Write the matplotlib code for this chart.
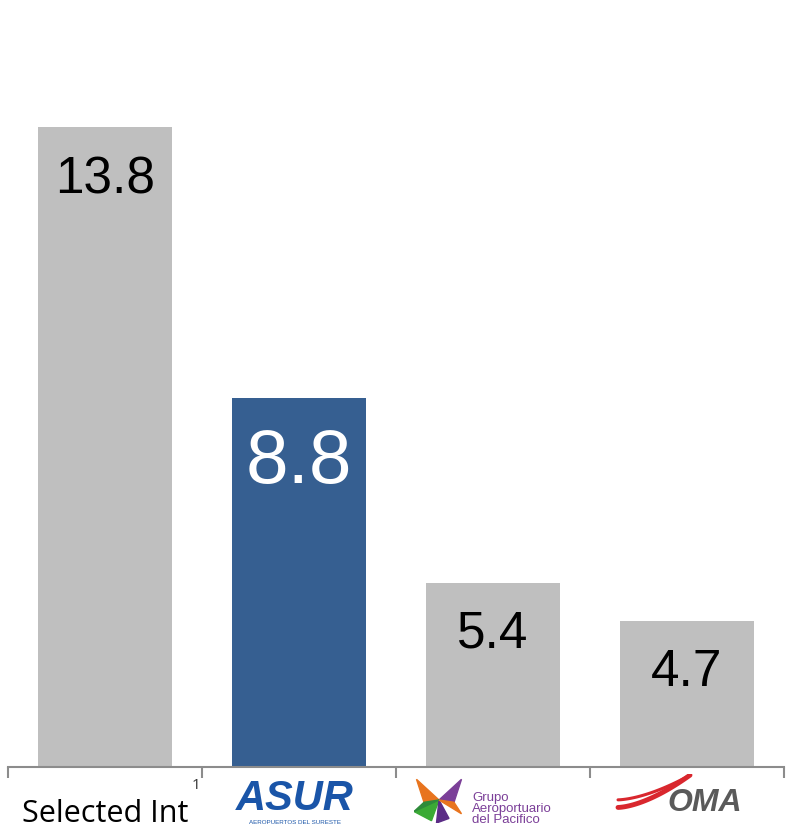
import matplotlib.pyplot as plt
from matplotlib.patches import Polygon
import numpy as np

plt.rcParams['font.family'] = ['Liberation Sans', 'DejaVu Sans']

# Data
categories = ['Selected Int', 'ASUR', 'GAP', 'OMA']
values = [13.8, 8.8, 5.4, 4.7]
bar_colors = ['#BFBFBF', '#365F91', '#BFBFBF', '#BFBFBF']
label_colors = ['black', 'white', 'black', 'black']
label_sizes = [37, 55, 37, 37]
label_offsets = [-38, -47, -37, -37]

fig = plt.figure(figsize=(7.86, 8.36), dpi=100)
ax = fig.add_axes([0.0102, 0.0825, 0.987, 0.9077])

x = np.arange(len(categories))
ax.bar(x, values, width=0.69, color=bar_colors, zorder=2)

for xi, v, c, s, off in zip(x, values, label_colors, label_sizes, label_offsets):
    ax.annotate(f'{v:.1f}', (xi, v), xytext=(0, off), textcoords='offset points',
                ha='center', va='center', fontsize=s, color=c)

ax.set_xlim(-0.5, 3.5)
ax.set_ylim(2, 16)
for side in ['top', 'right', 'left']:
    ax.spines[side].set_visible(False)
ax.spines['bottom'].set_color('#8C8C8C')
ax.spines['bottom'].set_linewidth(1.5)
ax.set_yticks([])
ax.set_xticks(np.arange(-0.5, 4, 1))
ax.set_xticklabels([])
ax.tick_params(axis='x', direction='out', length=8, width=1.5, color='#8C8C8C')

# category labels below axis
ax.annotate(categories[0], (0, 0), xycoords=('data', 'axes fraction'),
            xytext=(0, -34), textcoords='offset points', ha='center', va='center',
            fontsize=22, family=['Open Sans', 'DejaVu Sans'], color='black')
ax.annotate('1', (0.47, 0), xycoords=('data', 'axes fraction'),
            xytext=(0, -13), textcoords='offset points', ha='center', va='center',
            fontsize=11, family=['Open Sans', 'DejaVu Sans'], color='#333333')

# ASUR logo
ax.annotate('ASUR', (1, 0), xycoords=('data', 'axes fraction'),
            xytext=(-3, -23), textcoords='offset points', ha='center', va='center',
            fontsize=30, fontweight='bold', style='italic', color='#1A55A8')
ax.annotate('AEROPUERTOS DEL SURESTE', (1, 0), xycoords=('data', 'axes fraction'),
            xytext=(-3, -40), textcoords='offset points', ha='center', va='center',
            fontsize=4.5, color='#1A55A8')

# GAP logo
star = fig.add_axes([414 / 786, 1 - 823 / 836, 50 / 786, 46 / 836])
star.set_xlim(0, 1)
star.set_ylim(0, 1)
star.axis('off')
star.add_patch(Polygon([(0.05, 0.95), (0.5, 0.5), (0.2, 0.45)], color='#E8741E'))
star.add_patch(Polygon([(0.95, 0.95), (0.5, 0.5), (0.8, 0.45)], color='#7B3F98'))
star.add_patch(Polygon([(0.0, 0.25), (0.5, 0.5), (0.35, 0.05)], color='#3BAA35'))
star.add_patch(Polygon([(0.45, 0.0), (0.5, 0.5), (0.7, 0.1)], color='#5B2C86'))
star.add_patch(Polygon([(0.2, 0.45), (0.5, 0.5), (0.0, 0.25)], color='#2E8B3A'))
star.add_patch(Polygon([(0.8, 0.45), (0.5, 0.5), (0.95, 0.2)], color='#E8741E'))
ax.annotate('Grupo\nAeroportuario\ndel Pacifico', (2, 0), xycoords=('data', 'axes fraction'),
            xytext=(-15, -30), textcoords='offset points', ha='left', va='center',
            fontsize=9.5, color='#7B3F98', linespacing=0.9)

# OMA logo
sw = fig.add_axes([614 / 786, 1 - 812 / 836, 80 / 786, 38 / 836])
sw.set_xlim(0, 1)
sw.set_ylim(0, 1)
sw.axis('off')
t = np.linspace(0, 1, 50)
for dy, lw in [(0.0, 3.5), (0.2, 2.2)]:
    sw.plot(0.05 + 0.9 * t, 0.12 + dy + (0.85 - dy) * t ** 1.6, color='#D9272E', lw=lw,
            solid_capstyle='round')
ax.annotate('OMA', (3, 0), xycoords=('data', 'axes fraction'),
            xytext=(13, -26), textcoords='offset points', ha='center', va='center',
            fontsize=23, fontweight='bold', style='italic', color='#5A5A5A')

fig.savefig('out.png', dpi=100)
